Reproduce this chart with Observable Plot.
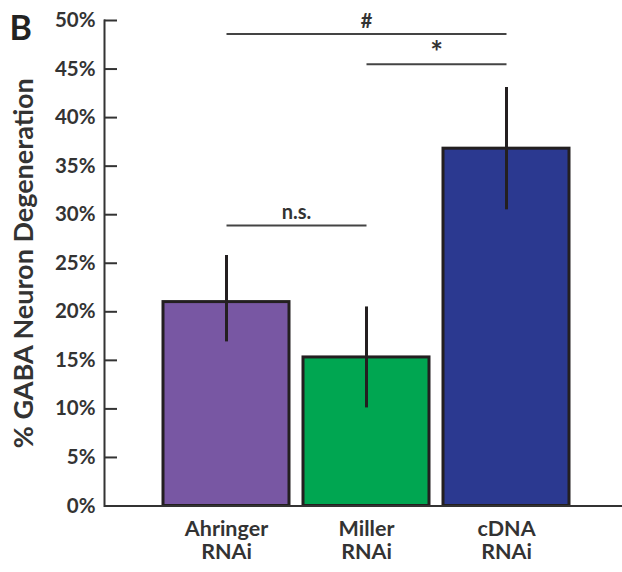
<!DOCTYPE html>
<html><head><meta charset="utf-8">
<script src="https://cdn.jsdelivr.net/npm/d3@7"></script>
<script src="https://cdn.jsdelivr.net/npm/@observablehq/plot@0.6"></script>
<style>
body{margin:0;background:#fff;}
#chart svg{display:block;}
</style>
</head><body><div id="chart"></div>
<script>
const categories = ["Ahringer\nRNAi", "Miller\nRNAi", "cDNA\nRNAi"];
const values = [21.0, 15.3, 36.8];
const errLow = [16.9, 10.1, 30.5];
const errHigh = [25.8, 20.5, 43.1];
const colors = ["#7857a3", "#00a651", "#2b3990"];
const yTicks = [0, 5, 10, 15, 20, 25, 30, 35, 40, 45, 50];
const bracketFrom = ["Ahringer\nRNAi", "Miller\nRNAi", "Ahringer\nRNAi"];
const bracketTo = ["cDNA\nRNAi", "cDNA\nRNAi", "Miller\nRNAi"];
const bracketLevel = [48.6, 45.5, 28.9];
const bracketLabel = ["#", "*", "n.s."];

const data = categories.map((c, i) => ({name: c, value: values[i], lo: errLow[i], hi: errHigh[i], color: colors[i]}));
const brackets = bracketLabel.map((l, i) => ({from: bracketFrom[i], to: bracketTo[i], level: bracketLevel[i], label: l}));
const starBrackets = brackets.filter(b => b.label === "*");
const otherBrackets = brackets.filter(b => b.label !== "*");

const ink = "#333";
const font = "Lato, 'Open Sans', sans-serif";

function midRender(rows) {
  return function(index, scales, vals, dims, ctx, next) {
    const X = Array.from(vals.x);
    for (const i of index) {
      const off = vals.x[i] - scales.x(rows[i].from);
      X[i] = (vals.x[i] + scales.x(rows[i].to) + off) / 2;
    }
    return next(index, scales, {...vals, x: X}, dims, ctx);
  };
}

const chart = Plot.plot({
  width: 622,
  height: 572,
  marginLeft: 104,
  marginRight: 0,
  marginTop: 20,
  marginBottom: 66.5,
  style: {fontFamily: font, fontWeight: "bold", color: ink, background: "#fff", overflow: "visible"},
  x: {domain: categories, range: [163, 569], paddingInner: 0.1, paddingOuter: 0, label: null},
  y: {domain: [0, 50], label: null},
  marks: [
    Plot.barY(data, {x: "name", y: "value", fill: d => d.color, stroke: "#231f20", strokeWidth: 3}),
    Plot.ruleX(data, {x: "name", y1: "lo", y2: "hi", stroke: "#231f20", strokeWidth: 3}),
    Plot.ruleY([0], {stroke: ink, strokeWidth: 2}),
    Plot.frame({anchor: "left", stroke: ink, strokeWidth: 2}),
    Plot.axisY({ticks: yTicks, tickFormat: d => d + "%", tickSize: -13, tickPadding: 22, fontSize: 20.5, fill: ink, stroke: ink, strokeWidth: 2, label: "% GABA Neuron Degeneration", labelAnchor: "center", labelOffset: 91, labelArrow: "none"}),
    Plot.axisX({tickSize: 0, tickPadding: 13, fontSize: 21.5, lineHeight: 1.08, fill: ink, label: null}),
    Plot.link(brackets, {x1: "from", x2: "to", y1: "level", y2: "level", stroke: "#444", strokeWidth: 2}),
    Plot.text(otherBrackets, {x: "from", y: "level", text: "label", fontSize: 20, fill: ink, lineAnchor: "bottom", dy: -6, render: midRender(otherBrackets)}),
    Plot.text(starBrackets, {x: "from", y: "level", text: "label", fontSize: 30, fill: ink, lineAnchor: "bottom", dy: -1, render: midRender(starBrackets)}),
    Plot.text(["B"], {frameAnchor: "top-left", text: d => d, dx: -95, dy: -5, textAnchor: "start", lineAnchor: "top", fontSize: 34, fontWeight: "bold", fill: "#222"})
  ]
});
chart.querySelectorAll("g[aria-label='y-axis label'] text").forEach(t => t.setAttribute("font-size", 27));
document.getElementById("chart").append(chart);
</script>
</body></html>
